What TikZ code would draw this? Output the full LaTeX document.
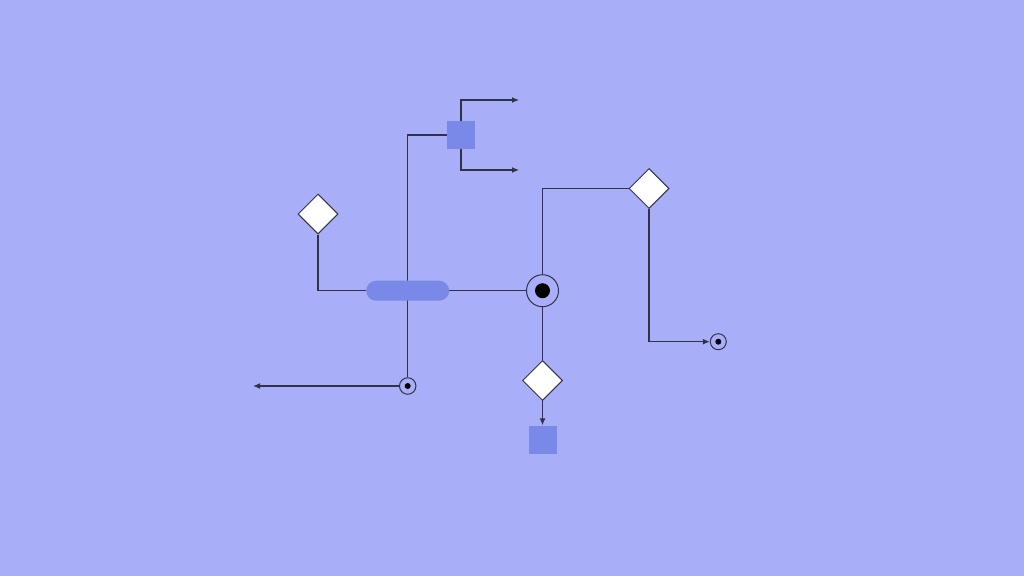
\documentclass[tikz,border=0pt]{standalone}
\usetikzlibrary{arrows.meta,shapes.geometric}
\pgfdeclarelayer{background}
\pgfsetlayers{background,main}
\begin{document}
\begin{tikzpicture}[x=1pt,y=-1pt,
  flow/.style={draw=kLine,line width=1.2pt},
  arr/.style={flow,-{Latex[length=7pt,width=6pt]}},
  decision/.style={diamond,draw=kLine,fill=white,line width=1pt,minimum size=40pt,inner sep=0pt},
  block/.style={rectangle,fill=kBlue,minimum size=28pt,inner sep=0pt},
  ring/.style={circle,draw=kLine,line width=1pt,inner sep=0pt},
  dot/.style={circle,fill=black,inner sep=0pt}]
  % colors
  \definecolor{kBack}{RGB}{168,175,248}
  \definecolor{kBlue}{RGB}{122,136,232}
  \definecolor{kLine}{RGB}{50,50,70}
  % shapes
  \node[block] (sqTop) at (461,135) {};
  \node[block] (sqBot) at (542.5,439.5) {};
  \node[rectangle,rounded corners=10pt,fill=kBlue,minimum width=83pt,minimum height=20pt,inner sep=0pt] (pill) at (407.7,290.7) {};
  \node[decision] (dmL) at (318,214) {};
  \node[decision] (dmR) at (649,188.5) {};
  \node[decision] (dmB) at (542.5,380.5) {};
  \node[ring,minimum size=32pt] (hub) at (542.5,290.7) {};
  \node[dot,minimum size=15pt] (hubDot) at (hub) {};
  \node[ring,minimum size=16.5pt] (endL) at (407.7,386) {};
  \node[dot,minimum size=6pt] (endLDot) at (endL) {};
  \node[ring,minimum size=16pt] (endR) at (718.3,341.7) {};
  \node[dot,minimum size=6pt] (endRDot) at (endR) {};
  \coordinate (outA) at (519,100);
  \coordinate (outB) at (519,170);
  \coordinate (outC) at (253,386);
  % connectors
  \begin{pgfonlayer}{background}
    \fill[kBack] (0,0) rectangle (1024,576);
    \draw[flow] (sqTop) -| (endL);
    \draw[flow] (dmL) |- (pill);
    \draw[flow] (pill) -- (hub);
    \draw[flow] (hub) |- (dmR);
    \draw[flow] (hub) -- (dmB);
    \draw[arr] (dmR) |- (endR);
    \draw[arr] (dmB) -- (sqBot);
    \draw[arr] (sqTop) |- (outA);
    \draw[arr] (sqTop) |- (outB);
    \draw[arr] (endL) -- (outC);
  \end{pgfonlayer}
\end{tikzpicture}
\end{document}
